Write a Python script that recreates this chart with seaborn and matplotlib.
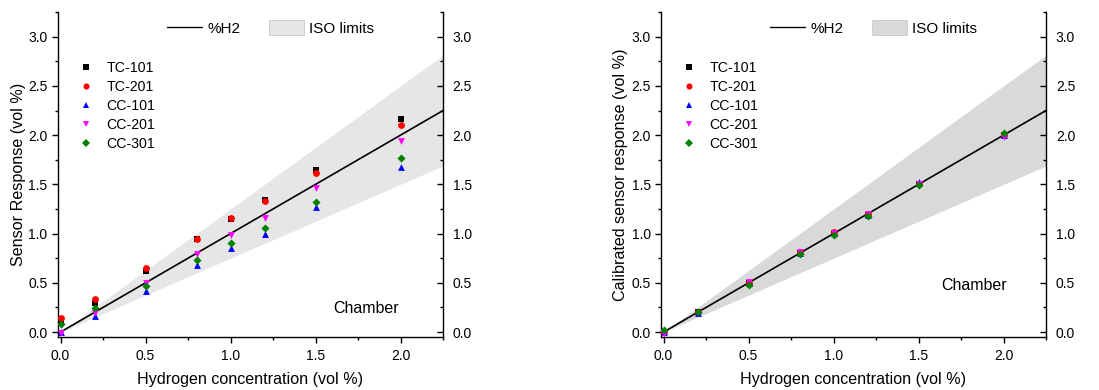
import numpy as np
import pandas as pd
import matplotlib
matplotlib.use("Agg")
import matplotlib.pyplot as plt
import seaborn as sns
from matplotlib.lines import Line2D
from matplotlib.patches import Patch
from matplotlib.ticker import MultipleLocator, FormatStrFormatter

# Hydrogen concentrations applied in the chamber (vol %)
conc = [0.0, 0.2, 0.5, 0.8, 1.0, 1.2, 1.5, 2.0]
sensors = ["TC-101", "TC-201", "CC-101", "CC-201", "CC-301"]

# Raw sensor readings (vol %)
raw_tc101 = [0.10, 0.30, 0.62, 0.94, 1.15, 1.34, 1.65, 2.16]
raw_tc201 = [0.14, 0.34, 0.65, 0.95, 1.16, 1.33, 1.62, 2.10]
raw_cc101 = [0.00, 0.16, 0.42, 0.68, 0.85, 1.00, 1.27, 1.68]
raw_cc201 = [-0.01, 0.19, 0.50, 0.79, 0.99, 1.16, 1.46, 1.94]
raw_cc301 = [0.08, 0.24, 0.47, 0.73, 0.90, 1.06, 1.32, 1.77]

# Readings after calibration (vol %)
cal_tc101 = [0.00, 0.20, 0.50, 0.80, 1.01, 1.19, 1.50, 2.00]
cal_tc201 = [0.00, 0.20, 0.50, 0.81, 1.02, 1.20, 1.50, 2.00]
cal_cc101 = [0.00, 0.19, 0.50, 0.80, 1.01, 1.19, 1.52, 2.00]
cal_cc201 = [-0.02, 0.19, 0.51, 0.81, 1.01, 1.20, 1.50, 1.98]
cal_cc301 = [0.02, 0.20, 0.48, 0.79, 0.99, 1.18, 1.49, 2.02]

# Ideal response line and ISO tolerance band (+/- 25 %)
ref_x = np.array([0.0, 2.25])
iso_tol = 0.25

x_ticks = [0.0, 0.5, 1.0, 1.5, 2.0]
y_ticks = [0.0, 0.5, 1.0, 1.5, 2.0, 2.5, 3.0]

palette = {"TC-101": "#000000", "TC-201": "#ff0000", "CC-101": "#0000ff",
           "CC-201": "#ff00ff", "CC-301": "#008000"}
markers = {"TC-101": "s", "TC-201": "o", "CC-101": "^", "CC-201": "v", "CC-301": "D"}
msizes = {"TC-101": 20, "TC-201": 24, "CC-101": 24, "CC-201": 24, "CC-301": 17}


def to_frame(series):
    rows = []
    for name, vals in zip(sensors, series):
        for c, v in zip(conc, vals):
            rows.append({"conc": c, "resp": v, "sensor": name})
    return pd.DataFrame(rows)


raw_df = to_frame([raw_tc101, raw_tc201, raw_cc101, raw_cc201, raw_cc301])
cal_df = to_frame([cal_tc101, cal_tc201, cal_cc101, cal_cc201, cal_cc301])

sns.set_theme(style="ticks")
plt.rcParams["font.family"] = ["Liberation Sans", "DejaVu Sans"]
plt.rcParams["axes.linewidth"] = 1.0
plt.rcParams["text.color"] = "black"
plt.rcParams["axes.labelcolor"] = "black"
plt.rcParams["xtick.color"] = "black"
plt.rcParams["ytick.color"] = "black"

fig = plt.figure(figsize=(10.99, 3.9), dpi=100)
ax1 = fig.add_axes([0.0528, 0.136, 0.3503, 0.833])
ax2 = fig.add_axes([0.6015, 0.136, 0.3503, 0.833])


def draw_panel(ax, df, ylabel, band_color, chamber_xy, ylabel_x):
    ax.fill_between(ref_x, ref_x * (1 - iso_tol), ref_x * (1 + iso_tol),
                    color=band_color, lw=0, zorder=1)
    sns.lineplot(x=ref_x, y=ref_x, color="black", lw=1.2, ax=ax, zorder=2)
    for name in sensors:
        sub = df[df["sensor"] == name]
        sns.scatterplot(data=sub, x="conc", y="resp", color=palette[name],
                        marker=markers[name], s=msizes[name], linewidth=0,
                        ax=ax, zorder=3, legend=False)

    ax.set_xticks(x_ticks)
    ax.set_yticks(y_ticks)
    ax.xaxis.set_minor_locator(MultipleLocator(0.25))
    ax.yaxis.set_minor_locator(MultipleLocator(0.25))
    ax.xaxis.set_major_formatter(FormatStrFormatter("%.1f"))
    ax.yaxis.set_major_formatter(FormatStrFormatter("%.1f"))
    ax.set_xlim(-0.015, 2.25)
    ax.set_ylim(-0.05, 3.25)
    ax.tick_params(which="both", direction="out", top=False, right=False,
                   colors="black", labelsize=10, width=1.0)
    ax.tick_params(which="major", length=4)
    ax.tick_params(axis="x", which="major", pad=5)
    ax.tick_params(axis="y", which="major", pad=3.5)
    ax.tick_params(which="minor", length=2.2)
    ax.spines["top"].set_visible(False)
    ax.spines["right"].set_visible(False)
    for s in ("left", "bottom"):
        ax.spines[s].set_color("black")

    ax.set_xlabel("Hydrogen concentration (vol %)", fontsize=11.6, labelpad=6.5)
    ax.set_ylabel(ylabel, fontsize=11.6)
    ax.yaxis.set_label_coords(ylabel_x, 0.5)

    twin = ax.twinx()
    twin.set_ylim(ax.get_ylim())
    twin.set_yticks(y_ticks)
    twin.yaxis.set_minor_locator(MultipleLocator(0.25))
    twin.yaxis.set_major_formatter(FormatStrFormatter("%.1f"))
    twin.set_ylim(ax.get_ylim())
    twin.tick_params(which="both", direction="in", labelsize=10, colors="black", width=1.0)
    twin.tick_params(which="major", length=4, pad=7)
    twin.tick_params(which="minor", length=2.2)
    for s in ("top", "left", "bottom"):
        twin.spines[s].set_visible(False)
    twin.spines["right"].set_color("black")
    twin.grid(False)

    ax.text(chamber_xy[0], chamber_xy[1], "Chamber", transform=ax.transAxes,
            fontsize=11.5, ha="center", va="center")

    top_handles = [Line2D([], [], color="black", lw=1.0),
                   Patch(facecolor=band_color, edgecolor="#c8c8c8", lw=0.6)]
    leg1 = ax.legend(top_handles, ["%H2", "ISO limits"], ncol=2, frameon=False,
                     loc="center left", bbox_to_anchor=(0.283, 0.951),
                     borderpad=0, borderaxespad=0, handlelength=2.3,
                     handleheight=1.1, handletextpad=0.35, columnspacing=1.85,
                     fontsize=11)
    ax.add_artist(leg1)

    sensor_handles = [Line2D([], [], ls="none", marker=markers[n], color=palette[n],
                             markersize=4.4 if n != "CC-301" else 3.8, mew=0)
                      for n in sensors]
    ax.legend(sensor_handles, sensors, frameon=False, loc="upper left",
              bbox_to_anchor=(0.054, 0.85), borderpad=0, borderaxespad=0,
              handlelength=1.0, handletextpad=0.95, labelspacing=0.36,
              fontsize=10.2)
    return twin


draw_panel(ax1, raw_df, "Sensor Response (vol %)", "#e6e6e6", (0.80, 0.089), -0.083)
draw_panel(ax2, cal_df, "Calibrated sensor response (vol %)", "#d9d9d9", (0.813, 0.157), -0.086)

fig.savefig("out.png", dpi=100)
